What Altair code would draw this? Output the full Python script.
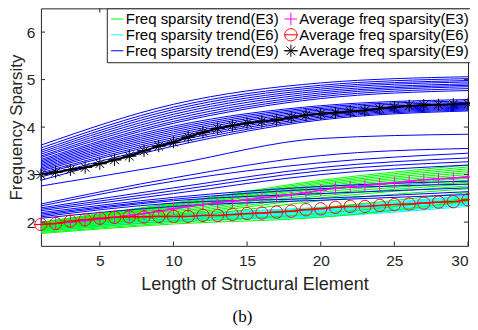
import altair as alt
import pandas as pd

# ---------------- data ----------------
x_knots = [1, 10, 20, 30]

blue_lines = [
    [3.62, 4.48, 4.93, 5.06],
    [3.56, 4.42, 4.88, 5.02],
    [3.51, 4.37, 4.84, 4.98],
    [3.47, 4.32, 4.80, 4.95],
    [3.43, 4.27, 4.76, 4.91],
    [3.39, 4.22, 4.72, 4.88],
    [3.36, 4.17, 4.68, 4.85],
    [3.32, 4.12, 4.64, 4.81],
    [3.29, 4.08, 4.60, 4.77],
    [3.26, 4.02, 4.45, 4.58],
    [3.23, 3.98, 4.42, 4.55],
    [3.20, 3.94, 4.39, 4.52],
    [3.17, 3.90, 4.36, 4.49],
    [3.14, 3.86, 4.33, 4.46],
    [3.11, 3.82, 4.30, 4.44],
    [3.08, 3.78, 4.27, 4.42],
    [3.04, 3.74, 4.24, 4.40],
    [3.01, 3.70, 4.21, 4.38],
    [2.95, 3.65, 4.18, 4.36],
    [2.88, 3.60, 4.15, 4.34],
    [2.76, 3.22, 3.76, 3.85],
    [2.38, 2.93, 3.40, 3.55],
    [2.34, 2.86, 3.25, 3.45],
    [2.30, 2.72, 3.15, 3.35],
    [2.27, 2.66, 3.08, 3.27],
    [2.24, 2.60, 3.00, 3.20],
    [2.20, 2.52, 2.75, 2.86],
    [2.17, 2.48, 2.70, 2.80],
    [2.14, 2.45, 2.60, 2.72],
    [2.11, 2.40, 2.50, 2.64],
    [2.08, 2.33, 2.46, 2.58],
]

green_lines = [
    [2.00, 2.40, 2.88, 3.20],
    [1.99, 2.38, 2.85, 3.16],
    [1.98, 2.36, 2.82, 3.12],
    [1.97, 2.34, 2.79, 3.08],
    [1.96, 2.32, 2.76, 3.04],
    [1.95, 2.30, 2.73, 3.00],
    [1.94, 2.27, 2.70, 2.96],
    [1.92, 2.24, 2.67, 2.92],
    [1.91, 2.21, 2.63, 2.88],
    [1.89, 2.18, 2.59, 2.84],
    [1.88, 2.15, 2.55, 2.80],
    [1.86, 2.12, 2.51, 2.76],
    [1.84, 2.08, 2.45, 2.70],
    [1.81, 2.03, 2.30, 2.62],
    [1.78, 1.99, 2.18, 2.50],
    [1.76, 1.96, 2.10, 2.44],
]

cyan_lines = [
    [1.95, 2.17, 2.31, 2.56],
    [1.94, 2.15, 2.29, 2.54],
    [1.92, 2.13, 2.27, 2.52],
    [1.91, 2.12, 2.25, 2.50],
    [1.90, 2.10, 2.23, 2.48],
    [1.88, 2.09, 2.22, 2.46],
    [1.87, 2.07, 2.20, 2.44],
    [1.86, 2.06, 2.18, 2.42],
    [1.84, 2.05, 2.16, 2.40],
    [1.83, 2.03, 2.14, 2.38],
    [1.82, 2.02, 2.13, 2.36],
    [1.80, 2.01, 2.11, 2.33],
]

x_avg = list(range(1, 31))
avg_e3 = [1.95, 1.97, 2.00, 2.03, 2.06, 2.10, 2.14, 2.18, 2.23, 2.28,
          2.33, 2.37, 2.41, 2.44, 2.47, 2.51, 2.54, 2.58, 2.62, 2.67,
          2.71, 2.74, 2.77, 2.80, 2.83, 2.86, 2.89, 2.91, 2.93, 2.95]
avg_e6 = [1.95, 1.97, 2.02, 2.05, 2.08, 2.10, 2.11, 2.11, 2.12, 2.12,
          2.12, 2.14, 2.14, 2.16, 2.18, 2.19, 2.21, 2.23, 2.26, 2.28,
          2.31, 2.33, 2.33, 2.35, 2.37, 2.38, 2.40, 2.42, 2.43, 2.47]
avg_e9 = [3.00, 3.05, 3.10, 3.15, 3.23, 3.31, 3.39, 3.50, 3.60, 3.68,
          3.79, 3.89, 3.97, 4.03, 4.08, 4.12, 4.15, 4.20, 4.25, 4.28,
          4.30, 4.33, 4.35, 4.39, 4.42, 4.45, 4.46, 4.47, 4.48, 4.49]

x_ticks = [5, 10, 15, 20, 25, 30]
y_ticks = [2, 3, 4, 5, 6]

# legend order (filled column by column: trends left, averages right)
series_names = [
    "Freq sparsity trend(E3)", "Freq sparsity trend(E6)", "Freq sparsity trend(E9)",
    "Average freq sparsity(E3)", "Average freq sparsity(E6)", "Average freq sparsity(E9)",
]
series_colors = ["#00ff00", "#00ffff", "#0000ff", "#ff00ff", "#ff0000", "#000000"]

# ---------------- styling ----------------
LINE_PATH = "M-1,0L1,0"
PLUS_PATH = "M-1,0L1,0M0,-1L0,1"
CIRCLE_PATH = "M-1,0A1,1,0,1,1,1,0A1,1,0,1,1,-1,0ZM-1.15,0L1.15,0"
STAR_PATH = "M0,-1L0,1M-1,0L1,0M-0.71,-0.71L0.71,0.71M-0.71,0.71L0.71,-0.71M-1.15,0L1.15,0"
series_shapes = [LINE_PATH, LINE_PATH, LINE_PATH, PLUS_PATH, CIRCLE_PATH, STAR_PATH]
series_sizes = [150, 150, 150, 196, 144, 190]
series_widths = [1, 1, 1, 1.5, 2, 2.5]

FONT = "Liberation Sans"
AX = "#262626"
W, H = 428, 238


def lines_frame(rows, group):
    recs = []
    for i, vals in enumerate(rows):
        for xv, yv in zip(x_knots, vals):
            recs.append({"line": f"{group}{i}", "x": xv, "y": yv})
    return pd.DataFrame(recs)


x_scale = alt.Scale(domain=[1, 30], nice=False, zero=False)
y_scale = alt.Scale(domain=[1.5, 6.5], nice=False, zero=False)

x_enc = alt.X("x:Q", scale=x_scale,
              axis=alt.Axis(values=x_ticks, title="Length of Structural Element",
                            tickSize=0, domain=False, grid=False, labelPadding=8,
                            titlePadding=6, titleFontSize=18))
y_enc = alt.Y("y:Q", scale=y_scale,
              axis=alt.Axis(values=y_ticks, title="Frequency Sparsity",
                            tickSize=0, domain=False, grid=False, labelPadding=6,
                            titlePadding=1, titleFontSize=17))


def trend_layer(rows, group, color):
    return alt.Chart(lines_frame(rows, group)).mark_line(
        color=color, strokeWidth=1, interpolate="monotone"
    ).encode(x=x_enc, y=y_enc, detail="line:N")


green = trend_layer(green_lines, "g", "#00ff00")
cyan = trend_layer(cyan_lines, "c", "#00ffff")
blue = trend_layer(blue_lines, "b", "#0000ff")

avg_df = pd.concat([
    pd.DataFrame({"x": x_avg, "y": avg_e3, "series": series_names[3]}),
    pd.DataFrame({"x": x_avg, "y": avg_e6, "series": series_names[4]}),
    pd.DataFrame({"x": x_avg, "y": avg_e9, "series": series_names[5]}),
])


def avg_line(name, color, width):
    return alt.Chart(avg_df).transform_filter(
        alt.datum.series == name
    ).mark_line(color=color, strokeWidth=width).encode(x=x_enc, y=y_enc)


l3 = avg_line(series_names[3], "#ff00ff", 1.5)
l6 = avg_line(series_names[4], "#ff0000", 1.5)
l9 = avg_line(series_names[5], "#000000", 2)

legend = alt.Legend(
    title=None, orient="none", legendX=66, legendY=0, columns=2,
    labelFont=FONT, labelFontSize=15, labelColor="black", labelLimit=400,
    padding=3, rowPadding=-1, columnPadding=2, labelOffset=1,
    strokeColor=AX, fillColor="white", symbolFillColor="transparent",
)

points = alt.Chart(avg_df).mark_point(filled=False, opacity=1).encode(
    x=x_enc, y=y_enc,
    color=alt.Color("series:N", scale=alt.Scale(domain=series_names, range=series_colors),
                    legend=legend, sort=series_names),
    shape=alt.Shape("series:N", scale=alt.Scale(domain=series_names, range=series_shapes),
                    sort=series_names),
    size=alt.Size("series:N", scale=alt.Scale(domain=series_names, range=series_sizes),
                  sort=series_names),
    strokeWidth=alt.StrokeWidth("series:N",
                                scale=alt.Scale(domain=series_names, range=series_widths),
                                sort=series_names),
)

# inward ticks (MATLAB box style)
xt = pd.DataFrame({"x": x_ticks})
yt = pd.DataFrame({"y": y_ticks})
tick_style = dict(color=AX, strokeWidth=1)
xt_bottom = alt.Chart(xt).mark_rule(**tick_style).encode(
    x=x_enc, y=alt.datum(1.5, scale=y_scale), y2=alt.datum(1.59))
xt_top = alt.Chart(xt).mark_rule(**tick_style).encode(
    x=x_enc, y=alt.datum(6.5, scale=y_scale), y2=alt.datum(6.41))
yt_left = alt.Chart(yt).mark_rule(**tick_style).encode(
    y=y_enc, x=alt.datum(1, scale=x_scale), x2=alt.datum(1.28))
yt_right = alt.Chart(yt).mark_rule(**tick_style).encode(
    y=y_enc, x=alt.datum(30, scale=x_scale), x2=alt.datum(29.72))

chart = alt.layer(
    cyan, green, blue, l3, l6, l9, points, xt_bottom, xt_top, yt_left, yt_right
).properties(
    width=W, height=H,
    title=alt.Title("(b)", orient="bottom", font="Liberation Serif", fontSize=17,
                    fontWeight="normal", color="black", dx=-12, offset=16),
    autosize=alt.AutoSizeParams(type="none"),
    padding={"left": 33, "top": 0, "right": 2, "bottom": 84},
).configure_view(
    stroke=AX, strokeWidth=1
).configure_axis(
    labelFont=FONT, labelFontSize=15.5, labelColor=AX,
    titleFont=FONT, titleColor=AX, titleFontWeight="normal",
)

chart.save("out.html", embed_options={"renderer": "svg", "actions": False})
